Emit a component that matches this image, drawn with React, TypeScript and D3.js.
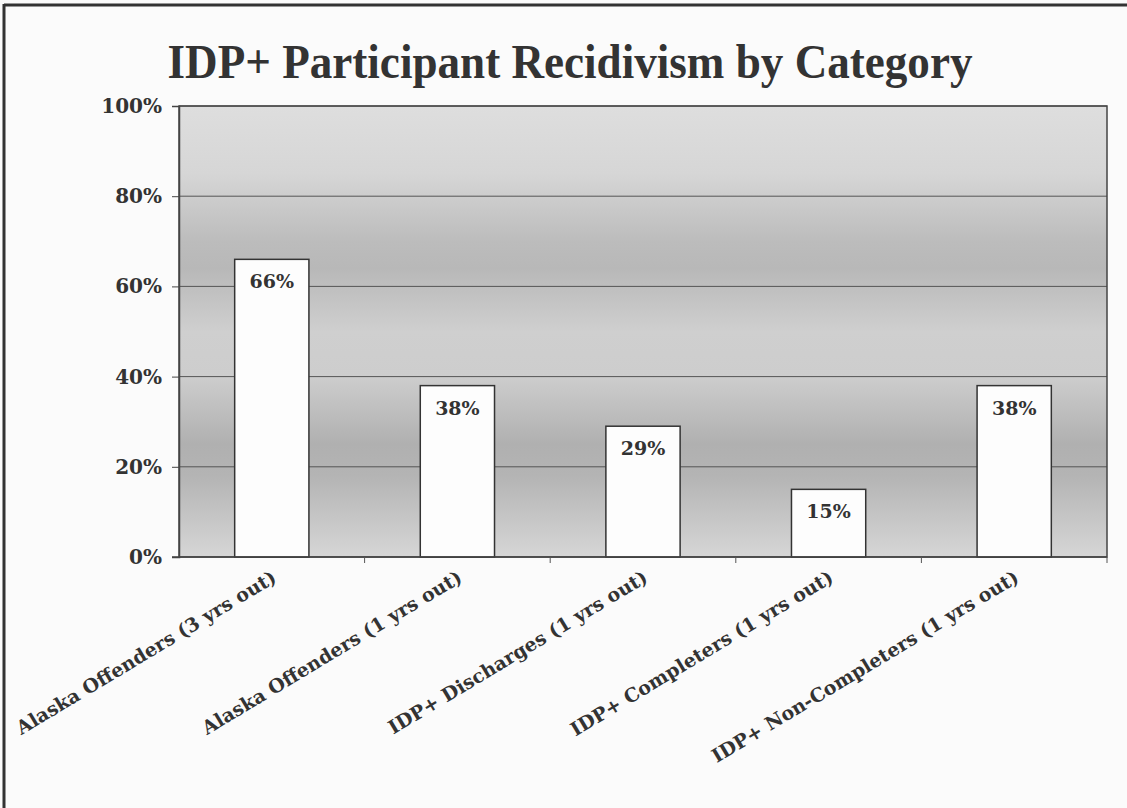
import React, { useRef, useEffect } from 'react';
import * as d3 from 'd3';

const categories = [
  'Alaska Offenders (3 yrs out)',
  'Alaska Offenders (1 yrs out)',
  'IDP+ Discharges (1 yrs out)',
  'IDP+ Completers (1 yrs out)',
  'IDP+ Non-Completers (1 yrs out)',
];
const recidivism = [66, 38, 29, 15, 38];
const yTicks = [0, 20, 40, 60, 80, 100];

const W = 1127;
const H = 808;

function App() {
  const svgRef = useRef<SVGSVGElement>(null);

  useEffect(() => {
    const svg = d3.select(svgRef.current);
    svg.selectAll('*').remove();

    const left = 179, right = 1107, top = 106, bottom = 557;

    // background gradient of the plot area, banded grey like the original
    const defs = svg.append('defs');
    const grad = defs.append('linearGradient')
      .attr('id', 'bg').attr('x1', 0).attr('y1', 0).attr('x2', 0).attr('y2', 1);
    [
      [0, '#dedede'], [0.15, '#d6d6d6'], [0.3, '#bcbcbc'], [0.36, '#b8b8b8'],
      [0.5, '#cfcfcf'], [0.6, '#cdcdcd'], [0.75, '#b0b0b0'], [0.82, '#b4b4b4'],
      [1, '#d6d6d6'],
    ].forEach(([o, c]) => grad.append('stop').attr('offset', o as number).attr('stop-color', c as string));

    // frame
    svg.append('rect').attr('width', W).attr('height', H).attr('fill', '#fbfbfb');
    svg.append('line').attr('x1', 4).attr('x2', 4).attr('y1', 4).attr('y2', H)
      .attr('stroke', '#333').attr('stroke-width', 3);
    svg.append('line').attr('x1', 4).attr('x2', W).attr('y1', 5).attr('y2', 5)
      .attr('stroke', '#333').attr('stroke-width', 3);

    const x = d3.scaleBand().domain(categories).range([left, right]).paddingInner(0.6).paddingOuter(0.3);
    const y = d3.scaleLinear().domain([0, 100]).range([bottom, top]);

    svg.append('rect')
      .attr('x', left).attr('y', top).attr('width', right - left).attr('height', bottom - top)
      .attr('fill', 'url(#bg)');

    // gridlines
    svg.append('g').selectAll('line').data(yTicks.slice(1)).join('line')
      .attr('x1', left).attr('x2', right)
      .attr('y1', d => y(d)).attr('y2', d => y(d))
      .attr('stroke', '#555').attr('stroke-width', 1);

    // plot border
    svg.append('rect')
      .attr('x', left).attr('y', top).attr('width', right - left).attr('height', bottom - top)
      .attr('fill', 'none').attr('stroke', '#444').attr('stroke-width', 1.5);

    // bars
    svg.append('g').selectAll('rect').data(recidivism).join('rect')
      .attr('x', (d, i) => x(categories[i])!)
      .attr('y', d => y(d))
      .attr('width', x.bandwidth())
      .attr('height', d => bottom - y(d))
      .attr('fill', '#fdfdfd').attr('stroke', '#333').attr('stroke-width', 1.5);

    // data labels
    svg.append('g').selectAll('text').data(recidivism).join('text')
      .attr('x', (d, i) => x(categories[i])! + x.bandwidth() / 2)
      .attr('y', d => y(d) + 29)
      .attr('text-anchor', 'middle')
      .attr('font-family', 'DejaVu Serif, serif').attr('font-weight', 'bold')
      .attr('font-size', 19).attr('fill', '#333')
      .text(d => d + '%');

    // y axis
    const yAxis = d3.axisLeft(y).tickValues(yTicks).tickSize(7).tickFormat(d => d + '%');
    const ya = svg.append('g').attr('transform', `translate(${left},0)`).call(yAxis);
    ya.select('.domain').attr('stroke', '#444').attr('stroke-width', 1.5);
    ya.selectAll('line').attr('stroke', '#444');
    ya.selectAll('text')
      .attr('x', -17)
      .attr('font-family', 'DejaVu Serif, serif').attr('font-weight', 'bold')
      .attr('font-size', 20).attr('fill', '#333');

    // x axis with ticks between categories
    const bounds = d3.range(1, categories.length + 1).map(i => left + i * (right - left) / categories.length);
    svg.append('line').attr('x1', left - 7).attr('x2', right).attr('y1', bottom).attr('y2', bottom)
      .attr('stroke', '#444').attr('stroke-width', 1.5);
    svg.append('g').selectAll('line').data(bounds).join('line')
      .attr('x1', d => d).attr('x2', d => d).attr('y1', bottom).attr('y2', bottom + 6)
      .attr('stroke', '#555');

    svg.append('g').selectAll('text').data(categories).join('text')
      .attr('transform', d => `translate(${x(d)! + x.bandwidth() / 2 + 6},${bottom + 24}) rotate(-31)`)
      .attr('text-anchor', 'end')
      .attr('font-family', 'DejaVu Serif, serif').attr('font-weight', 'bold')
      .attr('font-size', 19).attr('fill', '#333')
      .text(d => d);

    // title
    svg.append('text')
      .attr('x', 570).attr('y', 78)
      .attr('text-anchor', 'middle')
      .attr('font-family', 'Liberation Serif, serif').attr('font-weight', 'bold')
      .attr('font-size', 48).attr('fill', '#333')
      .attr('textLength', 805).attr('lengthAdjust', 'spacingAndGlyphs')
      .text('IDP+ Participant Recidivism by Category');
  }, []);

  return (
    <svg ref={svgRef} width={W} height={H}
      style={{ position: 'absolute', left: 0, top: 0, display: 'block' }} />
  );
}

export default App;
